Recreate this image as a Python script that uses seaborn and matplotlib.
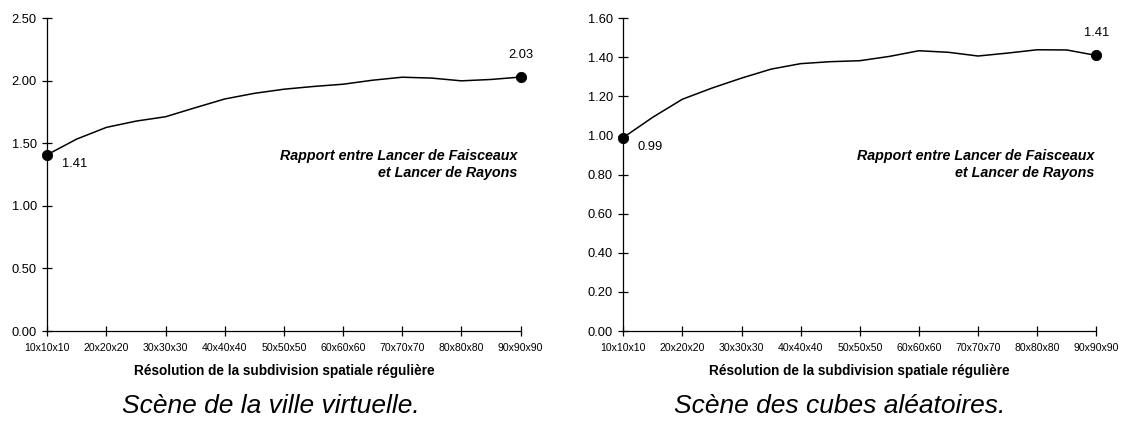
import matplotlib
matplotlib.use("Agg")
import matplotlib.pyplot as plt
import seaborn as sns
import pandas as pd

# ---- data ----
resolution = [10, 15, 20, 25, 30, 35, 40, 45, 50, 55, 60, 65, 70, 75, 80, 85, 90]
tick_values = [10, 20, 30, 40, 50, 60, 70, 80, 90]
tick_labels = ["10x10x10", "20x20x20", "30x30x30", "40x40x40", "50x50x50",
               "60x60x60", "70x70x70", "80x80x80", "90x90x90"]
ratio_ville = [1.41, 1.535, 1.628, 1.678, 1.713, 1.785, 1.855, 1.90, 1.933,
               1.955, 1.973, 2.005, 2.029, 2.022, 2.00, 2.011, 2.03]
ratio_cubes = [0.99, 1.094, 1.186, 1.243, 1.294, 1.34, 1.368, 1.378, 1.383,
               1.405, 1.434, 1.426, 1.407, 1.422, 1.439, 1.438, 1.41]
captions = ["Scène de la ville virtuelle.", "Scène des cubes aléatoires."]
xlabel = "Résolution de la subdivision spatiale régulière"
annot = "Rapport entre Lancer de Faisceaux\net Lancer de Rayons"

sns.set_theme(style="white")
plt.rcParams["font.family"] = ["Liberation Sans", "DejaVu Sans"]
plt.rcParams["text.color"] = "black"
plt.rcParams["axes.labelcolor"] = "black"
plt.rcParams["xtick.color"] = "black"
plt.rcParams["ytick.color"] = "black"

W, H = 1124, 421
fig = plt.figure(figsize=(W / 100, H / 100), dpi=100)

def px(x0, y_top, x1, y_bot):
    return [x0 / W, 1 - y_bot / H, (x1 - x0) / W, (y_bot - y_top) / H]

specs = [
    dict(rect=px(47.3, 18.3, 520.5, 331), vals=ratio_ville, ymax=2.5, step=0.5,
         cap_x=271, annot_x=517),
    dict(rect=px(623.3, 18.3, 1096.3, 331), vals=ratio_cubes, ymax=1.6, step=0.2,
         cap_x=840, annot_x=1094),
]

for spec, cap in zip(specs, captions):
    ax = fig.add_axes(spec["rect"])
    df = pd.DataFrame({"res": resolution, "val": spec["vals"]})
    sns.lineplot(data=df, x="res", y="val", ax=ax, color="black", lw=1.1)
    ends = df.iloc[[0, -1]]
    sns.scatterplot(data=ends, x="res", y="val", ax=ax, color="black", s=55,
                    edgecolor="black", zorder=5, clip_on=False)
    ax.set_xlim(10, 90)
    ax.set_ylim(0, spec["ymax"])
    n = int(round(spec["ymax"] / spec["step"]))
    yt = [i * spec["step"] for i in range(n + 1)]
    ax.set_yticks(yt)
    ax.set_yticklabels([f"{v:.2f}" for v in yt], fontsize=9.3)
    ax.set_xticks(tick_values)
    ax.set_xticklabels(tick_labels, fontsize=7.6)
    ax.set_xlabel(xlabel, fontsize=9.8, fontweight="bold", labelpad=8,
                  color="black")
    ax.set_ylabel("")
    for s in ["top", "right"]:
        ax.spines[s].set_visible(False)
    for s in ["left", "bottom"]:
        ax.spines[s].set_color("black")
        ax.spines[s].set_linewidth(0.9)
    ax.tick_params(axis="both", direction="inout", length=7, width=0.9,
                   color="black", labelcolor="black", bottom=True, left=True)
    ax.tick_params(axis="x", pad=5)
    ax.tick_params(axis="y", pad=4)
    ax.set_facecolor("white")
    # data labels
    v0, v1 = spec["vals"][0], spec["vals"][-1]
    ax.annotate(f"{v0:.2f}", (resolution[0], v0), xytext=(27, -9),
                textcoords="offset pixels", ha="center", va="center",
                fontsize=9.3, color="black")
    ax.annotate(f"{v1:.2f}", (resolution[-1], v1), xytext=(0, 22),
                textcoords="offset pixels", ha="center", va="center",
                fontsize=9.3, color="black")
    fig.text(spec["annot_x"] / W, 1 - 164.5 / H, annot, ha="right", va="center",
             fontsize=10.3, fontweight="bold", fontstyle="italic",
             multialignment="right", linespacing=1.3, color="black")
    fig.text(spec["cap_x"] / W, 1 - 406 / H, cap, ha="center", va="center",
             fontsize=19, fontstyle="italic", color="black")

fig.savefig("out.png", dpi=100, facecolor="white")
